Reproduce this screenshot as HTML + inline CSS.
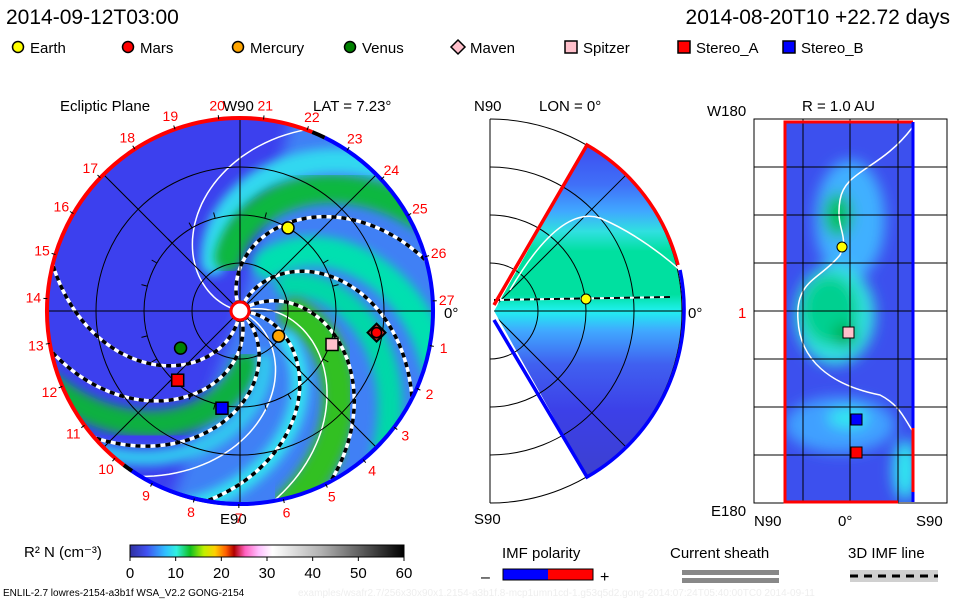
<!DOCTYPE html>
<html><head><meta charset="utf-8">
<style>
body{margin:0;background:#fff;}
svg{display:block;font-family:"Liberation Sans",sans-serif;}
</style></head>
<body>
<svg id="chart" width="960" height="600" viewBox="0 0 960 600">
<defs>
<clipPath id="disk"><circle cx="240" cy="311" r="193"/></clipPath>
<clipPath id="wedge"><path d="M494,311 L587,145 A193,193 0 0 1 587,477 Z"/></clipPath>
<clipPath id="rect"><rect x="785" y="122" width="129" height="380"/></clipPath>
<filter id="bl" x="-20%" y="-20%" width="140%" height="140%"><feGaussianBlur stdDeviation="5"/></filter>
<filter id="bl2" x="-20%" y="-20%" width="140%" height="140%"><feGaussianBlur stdDeviation="7"/></filter>
<linearGradient id="cbar" x1="0" x2="1" y1="0" y2="0">
<stop offset="0" stop-color="#3030a0"/><stop offset="0.06" stop-color="#4050f0"/><stop offset="0.13" stop-color="#30c0ff"/><stop offset="0.17" stop-color="#30f0e0"/><stop offset="0.22" stop-color="#10c020"/><stop offset="0.27" stop-color="#c0f000"/><stop offset="0.31" stop-color="#ffd000"/><stop offset="0.35" stop-color="#ff6000"/><stop offset="0.38" stop-color="#b00000"/><stop offset="0.42" stop-color="#ff60c0"/><stop offset="0.47" stop-color="#ffc0ff"/><stop offset="0.52" stop-color="#ffffff"/><stop offset="0.7" stop-color="#b0b0b0"/><stop offset="1" stop-color="#000"/>
</linearGradient>
<linearGradient id="wg" x1="0" y1="0" x2="0" y2="1">
<stop offset="0" stop-color="#3c4cf0"/><stop offset="0.12" stop-color="#4070f8"/><stop offset="0.2" stop-color="#40a8ff"/><stop offset="0.26" stop-color="#30e0e0"/><stop offset="0.32" stop-color="#00e0a0"/><stop offset="0.45" stop-color="#00e0a0"/><stop offset="0.5" stop-color="#20f0f0"/><stop offset="0.56" stop-color="#40a8ff"/><stop offset="0.66" stop-color="#4060f0"/><stop offset="0.8" stop-color="#3c40e8"/><stop offset="1" stop-color="#3c40d0"/>
</linearGradient>
</defs>

<text x="6" y="24" font-size="21" fill="#000">2014-09-12T03:00</text>
<text x="950" y="24" font-size="21" text-anchor="end" fill="#000">2014-08-20T10 +22.72 days</text>
<g id="legend"></g>

<g id="ecliptic">
<text x="60" y="111" font-size="15">Ecliptic Plane</text>
<text x="223" y="111" font-size="15">W90</text>
<text x="313" y="111" font-size="15">LAT = 7.23°</text>
<text x="220" y="524" font-size="15">E90</text>
<text x="444" y="318" font-size="15">0°</text>
<g clip-path="url(#disk)">
<circle cx="240" cy="311" r="193" fill="#3c40ee"/>
<g id="bands"></g>
<g id="spirals"></g>
<g id="grid"></g>
</g>
<g id="rim"></g>
<g id="nums"></g>
<circle cx="240" cy="311" r="9" fill="#fff" stroke="#f00" stroke-width="3"/>
<g id="planets"></g>
</g>

<g id="meridian">
<text x="474" y="111" font-size="15">N90</text>
<text x="539" y="111" font-size="15">LON = 0°</text>
<text x="474" y="524" font-size="15">S90</text>
<text x="688" y="318" font-size="15">0°</text>
<line x1="490" y1="119" x2="490" y2="503" stroke="#000"/>
<g id="marcs"></g>
<path d="M494,311 L587,145 A193,193 0 0 1 587,477 Z" fill="url(#wg)" clip-path="url(#wedge)"/>
<g clip-path="url(#wedge)" id="mgrid"></g>
<path d="M510,290 Q560,205 600,218 Q640,235 680,270" fill="none" stroke="#fff" stroke-width="1.5"/>
<line x1="494" y1="300" x2="670" y2="297" stroke="#fff" stroke-width="2"/>
<line x1="494" y1="300" x2="670" y2="297" stroke="#000" stroke-width="2" stroke-dasharray="6,4"/>
<path d="M494,305 L587,145 A193,193 0 0 1 678,265" fill="none" stroke="#f00" stroke-width="3.5"/>
<path d="M680,270 A193,193 0 0 1 587,477 L494,320" fill="none" stroke="#00f" stroke-width="3.5"/>
<circle cx="586" cy="299" r="5" fill="#ff0" stroke="#000"/>
</g>

<g id="shell">
<text x="802" y="111" font-size="15">R = 1.0 AU</text>
<text x="707" y="116" font-size="15">W180</text>
<text x="711" y="516" font-size="15">E180</text>
<text x="754" y="526" font-size="15">N90</text>
<text x="838" y="526" font-size="15">0°</text>
<text x="916" y="526" font-size="15">S90</text>
<text x="738" y="318" font-size="15" fill="#f00">1</text>
<g clip-path="url(#rect)">
<rect x="785" y="122" width="129" height="380" fill="#3c50ee"/>
<g filter="url(#bl2)">
<ellipse cx="850" cy="220" rx="35" ry="60" fill="#40b0ff"/>
<ellipse cx="838" cy="215" rx="14" ry="22" fill="#00c060"/>
<ellipse cx="835" cy="315" rx="40" ry="50" fill="#30e0e0"/>
<ellipse cx="830" cy="310" rx="28" ry="35" fill="#00d090"/>
<ellipse cx="845" cy="335" rx="12" ry="12" fill="#00b050"/>
<ellipse cx="840" cy="425" rx="55" ry="28" fill="#40a0ff"/>
<ellipse cx="848" cy="418" rx="20" ry="10" fill="#30e8f0"/>
<ellipse cx="905" cy="470" rx="12" ry="30" fill="#30e8f0"/>
</g>
<path d="M912,128 C880,170 845,170 840,200 C835,230 850,235 840,255 C820,280 795,280 798,320 C800,360 830,385 880,395 C900,405 905,420 912,430" fill="none" stroke="#fff" stroke-width="1.5"/>
</g>
<rect x="754" y="119" width="193" height="384" fill="none" stroke="#000"/>
<g id="sgrid"></g>
<path d="M913,122 L785,122 L785,502 L898,502" fill="none" stroke="#f00" stroke-width="3"/>
<line x1="913" y1="122" x2="913" y2="428" stroke="#00f" stroke-width="3"/>
<line x1="913" y1="428" x2="913" y2="492" stroke="#f00" stroke-width="3"/>
<line x1="913" y1="492" x2="913" y2="502" stroke="#00f" stroke-width="3"/>
<circle cx="842" cy="247" r="5" fill="#ff0" stroke="#000"/>
<rect x="843" y="327" width="11" height="11" fill="#ffc0cb" stroke="#000"/>
<rect x="851" y="414" width="11" height="11" fill="#00f" stroke="#000"/>
<rect x="851" y="447" width="11" height="11" fill="#f00" stroke="#000"/>
</g>

<g>
<text x="24" y="557" font-size="15">R² N (cm⁻³)</text>
<rect x="130" y="545" width="274" height="12" fill="url(#cbar)" stroke="#000"/>
<g id="cticks"></g>
</g>
<g>
<text x="502" y="558" font-size="15">IMF polarity</text>
<text x="481" y="582" font-size="16">–</text>
<rect x="503" y="569" width="45" height="11" fill="#00f"/>
<rect x="548" y="569" width="45" height="11" fill="#f00"/>
<rect x="503" y="569" width="90" height="11" fill="none" stroke="#000"/>
<text x="600" y="582" font-size="16">+</text>
</g>
<g>
<text x="670" y="558" font-size="15">Current sheath</text>
<rect x="682" y="570" width="97" height="5" fill="#888"/>
<rect x="682" y="578" width="97" height="5" fill="#888"/>
</g>
<g>
<text x="848" y="558" font-size="15">3D IMF line</text>
<rect x="850" y="570" width="88" height="12" fill="#d0d0d0"/>
<line x1="850" y1="576" x2="938" y2="576" stroke="#000" stroke-width="3" stroke-dasharray="8,6"/>
</g>
<text x="3" y="596" font-size="10">ENLIL-2.7 lowres-2154-a3b1f WSA_V2.2 GONG-2154</text>
<text x="298" y="596" font-size="10" fill="#eee">examples/wsafr2.7/256x30x90x1.2154-a3b1f.8-mcp1umn1cd-1.g53q5d2.gong-2014:07:24T05:40:00TC0    2014-09-11</text>
</svg>

<script>
// ---- data ----
const planetNames = ["Earth","Mars","Mercury","Venus","Maven","Spitzer","Stereo_A","Stereo_B"];
const planetR = [1.0, 1.44, 0.48, 0.73, 1.44, 1.02, 0.97, 1.03];       // AU
const planetLon = [60, -9, -33, 212, -9, -20, 228, 259.5];           // deg
const planetColor = ["#ffff00","#ff0000","#ffa500","#008000","#ffc0cb","#ffc0cb","#ff0000","#0000ff"];
const planetShape = ["circle","circle","circle","circle","diamond","square","square","square"];
const sectorEndAngles = [15, -27, -62, -100, 166, 192, 221];
const whiteLineEnds = [70, 239, -80];
const bandEndAngles = [50, 33, -10, -40, -72, -100, 207, 228];
const bandColors = ["#30d8f0","#10b840","#00e0b0","#00d8a8","#30c020","#30e0f0","#10b040","#30c8f0"];
const bandWidths = [25, 28, 30, 25, 32, 18, 26, 16];
const colorTicks = [0,10,20,30,40,50,60];

const NS="http://www.w3.org/2000/svg";
const cx=240, cy=311, R=193, AU=96, K=0.5;
function mk(tag, attrs, parent){const e=document.createElementNS(NS,tag);for(const k in attrs)e.setAttribute(k,attrs[k]);parent.appendChild(e);return e;}
function pol(r,deg){const a=deg*Math.PI/180;return [cx+r*Math.cos(a), cy-r*Math.sin(a)];}
function spiralPath(endAng,r0){let d="";for(let r=(r0||6);r<=R+10;r+=4){const p=pol(r,endAng+K*(R-r));d+=(d?"L":"M")+p[0].toFixed(1)+","+p[1].toFixed(1);}return d;}

// legend
const lg=document.getElementById('legend');
const lx=[18,128,238,350,458,571,684,789];
planetNames.forEach((n,i)=>{
  const x=lx[i], y=47, s=planetShape[i];
  let m;
  if(s==="circle") m=mk('circle',{cx:x,cy:y,r:5.5,fill:planetColor[i],stroke:'#000','stroke-width':1.5},lg);
  else if(s==="diamond") m=mk('path',{d:`M${x},${y-7}L${x+7},${y}L${x},${y+7}L${x-7},${y}Z`,fill:planetColor[i],stroke:'#000','stroke-width':1.5},lg);
  else m=mk('rect',{x:x-6,y:y-6,width:12,height:12,fill:planetColor[i],stroke:'#000','stroke-width':1.5},lg);
  
  
  const t=mk('text',{x:x+12,y:y+6,'font-size':15},lg); t.textContent=n;
  
  
});

// bands
const bands=document.getElementById('bands');
mk('path',{d:`M${cx},${cy} L${pol(R+20,-110).join(',')} A213,213 0 1 0 ${pol(R+20,75).join(',')} Z`,fill:'#3f80f5',filter:'url(#bl2)'},bands);
bandEndAngles.forEach((a,i)=>{
  const p=mk('path',{d:spiralPath(a,55),fill:'none',stroke:bandColors[i],'stroke-width':bandWidths[i],filter:'url(#bl)','stroke-linecap':'round'},bands);
  
  
});
// spirals
const sp=document.getElementById('spirals');
sectorEndAngles.forEach(a=>{
  mk('path',{d:spiralPath(a),fill:'none',stroke:'#fff','stroke-width':3.5},sp);
  const p=mk('path',{d:spiralPath(a),fill:'none',stroke:'#000','stroke-width':3.5,'stroke-dasharray':'5,5'},sp);
  
  
});
whiteLineEnds.forEach(a=>{
  const p=mk('path',{d:spiralPath(a),fill:'none',stroke:'#fff','stroke-width':1.5},sp);
  
  
});
// grid
const g=document.getElementById('grid');
[0.5,1,1.5].forEach(r=>mk('circle',{cx,cy,r:r*AU,fill:'none',stroke:'#000','stroke-width':1},g));
for(let a=0;a<180;a+=45){const p1=pol(R,a),p2=pol(R,a+180);mk('line',{x1:p1[0],y1:p1[1],x2:p2[0],y2:p2[1],stroke:'#000','stroke-width':1},g);}
for(let a=0;a<360;a+=15){const p1=pol(AU,a),p2=pol(AU+6,a);mk('line',{x1:p1[0],y1:p1[1],x2:p2[0],y2:p2[1],stroke:'#000'},g);}
// rim
const rim=document.getElementById('rim');
function arc(a1,a2,col){const p1=pol(R,a1),p2=pol(R,a2);mk('path',{d:`M${p1[0]},${p1[1]} A${R},${R} 0 ${Math.abs(a2-a1)>180?1:0} 0 ${p2[0]},${p2[1]}`,fill:'none',stroke:col,'stroke-width':4},rim);}
arc(-125,64,'#0000ff');arc(68,233,'#ff0000');arc(64,68,'#000');arc(233,236,'#000');
arc(236,270,'#0000ff');
// numbers
const nums=document.getElementById('nums');
for(let n=1;n<=27;n++){const a=3+(27-n)*13.333;const p=pol(R+14,a);const t=mk('text',{x:p[0],y:p[1]+5,'font-size':14,fill:'#f00','text-anchor':'middle'},nums);t.textContent=n;
  const q1=pol(R,a),q2=pol(R+4,a);mk('line',{x1:q1[0],y1:q1[1],x2:q2[0],y2:q2[1],stroke:'#000'},nums);}
// planets
const pl=document.getElementById('planets');
planetNames.forEach((n,i)=>{
  const [x,y]=pol(planetR[i]*AU,planetLon[i]);const s=planetShape[i];let m;
  if(s==="circle") m=mk('circle',{cx:x,cy:y,r:i===1?5:6,fill:planetColor[i],stroke:'#000','stroke-width':1.5},pl);
  else if(s==="diamond") m=mk('path',{d:`M${x},${y-9}L${x+9},${y}L${x},${y+9}L${x-9},${y}Z`,fill:'#c03030',stroke:'#000','stroke-width':2},pl);
  else m=mk('rect',{x:x-6,y:y-6,width:12,height:12,fill:planetColor[i],stroke:'#000','stroke-width':1.5},pl);
  
  
  if(i===4) pl.insertBefore(m,pl.children[1]);
});
// meridional arcs
const ma=document.getElementById('marcs');
[48,96,144,192].forEach(r=>mk('path',{d:`M490,${311-r} A${r},${r} 0 0 1 490,${311+r}`,fill:'none',stroke:'#000'},ma));
const mg=document.getElementById('mgrid');
[48,96,144,192].forEach(r=>mk('path',{d:`M490,${311-r} A${r},${r} 0 0 1 490,${311+r}`,fill:'none',stroke:'#000'},mg));
[45,-45].forEach(a=>{const r=a*Math.PI/180;mk('line',{x1:490,y1:311,x2:490+200*Math.cos(r),y2:311-200*Math.sin(r),stroke:'#000'},mg);});
mk('line',{x1:490,y1:311,x2:690,y2:311,stroke:'#000'},mg);
// shell grid
const sg=document.getElementById('sgrid');
[167,215,263,311,359,407,455].forEach(y=>mk('line',{x1:754,y1:y,x2:947,y2:y,stroke:'#000'},sg));
[803,850,898].forEach(x=>mk('line',{x1:x,y1:119,x2:x,y2:503,stroke:'#000'},sg));
// colorbar ticks
const ct=document.getElementById('cticks');
colorTicks.forEach(v=>{const x=130+v/60*274;mk('line',{x1:x,y1:557,x2:x,y2:561,stroke:'#000'},ct);const t=mk('text',{x:x,y:578,'font-size':15,'text-anchor':'middle'},ct);t.textContent=v;});
</script>
</body></html>
